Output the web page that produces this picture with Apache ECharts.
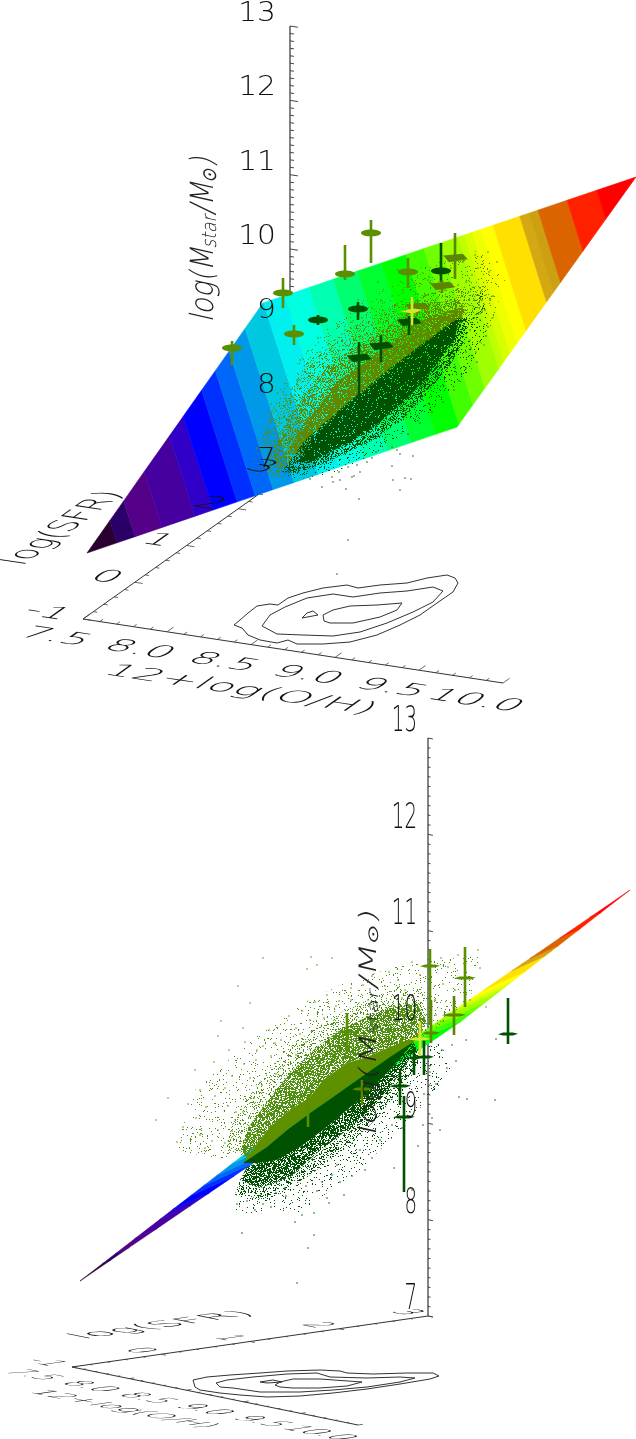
<!DOCTYPE html>
<html>
<head>
<meta charset="utf-8">
<title>log(Mstar/Msun) vs 12+log(O/H) and log(SFR)</title>
<style>
html,body{margin:0;padding:0;background:#fff}
#chart{width:636px;height:1439px}
</style>
<script src="https://cdn.jsdelivr.net/npm/echarts@6/dist/echarts.min.js"></script>
</head>
<body>
<div id="chart"></div>
<script>
// tick values of the three axes
var ohTicks = [7.5, 8.0, 8.5, 9.0, 9.5, 10.0]
var ohTickLabels = ['7.5', '8.0', '8.5', '9.0', '9.5', '10.0']
var sfrTicks = [-1, 0, 1, 2, 3]
var massTicks = [7, 8, 9, 10, 11, 12, 13]

// colour bands of the fitted plane: upper edge of each band and its colour
var bandEnds = [.05, .08, .125, .18, .21, .25, .28, .31, .345, .385, .42, .46, .5, .54, .58, .62, .65, .676, .706, .717, .73, .745, .764, .808, .823, .838, .886, .935, 1]
var bandColors = ['#2a0030', '#2a0068', '#550088', '#4600a0', '#3000c8', '#0000ff', '#0030ff', '#0068f8', '#0098e8', '#00c8e0', '#00f0f0', '#00ffe0', '#00ffb0', '#00ff70', '#00ff30', '#00ff00', '#40ff00', '#70ff00', '#a0ff00', '#c0ff00', '#d8ff00', '#f0ff00', '#ffff00', '#ffe000', '#d4a812', '#cca010', '#dc6400', '#ff2000', '#ff0000']

var planeTop = [[87, 553], [457, 427], [636, 177], [263, 303]]
var planeBottom = [[80, 1281], [460, 1022], [630, 890], [250, 1150]]

// contours on the floor
var contourTop = [
    [[234,625],[240,620],[248,613],[257,606],[270,604],[278,605],[288,598],[303,593],[323,588],[347,585],[358,588],[380,585],[407,583],[427,578],[447,575],[455,578],[458,583],[453,592],[437,603],[420,615],[400,625],[377,635],[350,642],[323,644],[297,644],[288,640],[277,643],[260,640],[248,635],[242,628],[234,625]],
    [[262,626],[270,615],[285,607],[307,598],[333,594],[353,597],[380,593],[407,591],[433,587],[443,591],[433,602],[413,612],[387,623],[360,632],[333,636],[303,635],[277,634],[262,626]],
    [[323,615],[333,610],[350,606],[377,605],[402,603],[397,610],[380,617],[353,623],[330,623],[324,621],[323,615]],
    [[302,618],[307,613],[313,611],[318,615],[302,618]]
]
var contourBottom = [
    [[193,1380],[207,1377],[230,1375],[260,1373],[287,1371],[320,1370],[340,1371],[347,1373],[373,1374],[407,1373],[433,1373],[439,1376],[430,1379],[400,1384],[367,1389],[333,1393],[300,1396],[267,1397],[240,1395],[220,1393],[200,1390],[195,1387],[193,1380]],
    [[216,1383],[227,1380],[253,1377],[287,1374],[317,1373],[330,1377],[367,1378],[400,1377],[415,1378],[400,1382],[367,1387],[333,1390],[300,1392],[260,1392],[233,1388],[220,1387],[216,1383]],
    [[275,1385],[280,1382],[293,1379],[320,1379],[362,1382],[347,1386],[320,1388],[293,1388],[280,1387],[275,1385]],
    [[260,1382],[273,1380],[282,1382],[267,1383],[260,1382]]
]

// outlines of the crowded parts of the two galaxy clouds
var oliveFaintTop = [[252,472],[260,420],[288,375],[320,335],[370,295],[420,268],[480,250],[505,280],[490,330],[470,350],[420,370],[340,430],[290,480]]
var oliveSparseTop = [[262,440],[272,407],[293,387],[310,357],[343,333],[377,313],[410,297],[460,288],[492,285],[480,320],[465,325],[433,345],[393,378],[347,413],[310,447],[290,475],[268,476]]
var oliveMediumTop = [[273,447],[287,423],[303,397],[327,367],[350,350],[373,337],[397,320],[427,303],[460,300],[467,317],[460,330],[433,345],[393,378],[347,413],[310,447],[293,467],[277,470]]
var oliveDenseTop = [[288,450],[303,425],[320,405],[337,382],[360,365],[387,347],[410,327],[433,315],[463,307],[462,322],[433,345],[393,375],[347,410],[327,425],[300,458]]
var darkFaintTop = [[280,482],[330,474],[380,452],[430,412],[470,372],[490,322],[482,290],[465,320],[430,380],[360,430],[300,465]]
var darkMediumTop = [[282,472],[305,440],[345,405],[390,368],[430,338],[457,318],[470,318],[465,340],[449,367],[429,390],[405,417],[379,437],[349,452],[320,465],[297,473]]
var darkDenseTop = [[298,462],[312,438],[347,405],[370,387],[393,368],[417,350],[433,337],[450,325],[460,318],[454,340],[439,360],[425,380],[402,403],[379,423],[352,441],[327,454],[310,462]]

var oliveFaintBottom = [[175,1150],[195,1090],[240,1050],[290,1010],[340,985],[400,965],[480,955],[470,1000],[430,1035],[350,1060],[260,1125],[225,1160]]
var oliveSparseBottom = [[225,1150],[233,1122],[250,1096],[268,1070],[287,1050],[313,1030],[340,1013],[377,993],[423,987],[428,1017],[417,1040],[390,1047],[347,1063],[310,1097],[270,1127],[247,1157]]
var oliveMediumBottom = [[240,1152],[250,1125],[270,1098],[290,1073],[317,1047],[340,1030],[367,1017],[390,1007],[417,1003],[427,1023],[417,1040],[390,1047],[367,1057],[347,1063],[323,1080],[310,1097],[290,1110],[270,1127],[247,1157]]
var oliveDenseBottom = [[247,1157],[270,1127],[290,1110],[310,1097],[323,1080],[347,1063],[367,1057],[390,1047],[407,1040],[417,1040],[413,1042],[390,1057],[367,1073],[333,1097],[310,1113],[287,1130],[267,1147],[243,1163]]
var darkDenseBottom = [[243,1163],[267,1147],[287,1130],[310,1113],[333,1097],[367,1073],[390,1057],[413,1042],[407,1050],[390,1070],[370,1090],[347,1110],[323,1130],[300,1147],[277,1160],[257,1163]]
var darkMediumBottom = [[247,1167],[240,1180],[260,1188],[290,1177],[317,1153],[347,1130],[373,1107],[393,1083],[407,1063],[417,1047],[413,1042],[390,1070],[347,1110],[300,1147],[257,1163]]
var darkSparseBottom = [[240,1180],[235,1195],[270,1200],[310,1175],[350,1145],[380,1115],[400,1090],[420,1060],[417,1047],[393,1083],[347,1130],[290,1177],[260,1188]]
var darkFaintBottom = [[232,1192],[236,1214],[300,1212],[360,1170],[410,1120],[452,1070],[440,1042],[420,1050],[380,1115],[310,1175],[270,1200]]

// single galaxies away from the crowded parts
var oliveDotsTop = [[297,380],[305,372],[312,365],[320,352],[328,345],[335,340],[345,330],[352,322],[362,318],[372,308],[381,300],[392,296],[403,290],[415,285],[428,280],[440,275],[451,268],[463,262],[475,255],[488,252],[300,360],[318,338],[338,325],[358,300],[378,282],[398,270],[472,275],[480,288],[490,300],[470,340],[480,320],[445,290],[455,300],[465,310],[437,298],[425,296],[410,305],[395,312],[380,322],[365,335],[350,340],[335,355],[325,375],[312,390],[300,410],[290,425],[282,440],[275,455],[270,463],[286,400],[295,395],[484,345],[476,352],[489,272],[497,262],[478,268],[466,282],[452,284],[482,300],[492,318],[257,448],[262,470],[268,430],[279,418],[283,392],[318,378],[342,365]]
var darkDotsTop = [[397,450],[400,454],[413,456],[392,466],[372,458],[367,462],[357,465],[348,467],[339,472],[340,480],[332,477],[352,477],[360,472],[310,479],[322,487],[346,489],[393,480],[411,479],[400,490],[359,499],[354,476],[333,482],[348,540],[337,574],[405,478],[470,330],[474,318],[479,305],[471,348],[480,342],[486,336],[477,362],[466,368],[459,381],[454,390],[443,402],[432,412],[420,423],[408,434],[392,447],[376,452],[466,352],[462,296],[469,300],[478,295],[485,310],[493,296],[488,327]]
var oliveDotsBottom = [[238,986],[263,958],[311,957],[317,965],[332,958],[307,969],[250,1003],[221,1021],[243,1028],[218,1036],[257,1050],[269,1030],[275,1043],[289,1016],[296,1028],[302,1011],[315,1002],[327,995],[339,1001],[351,988],[363,985],[372,976],[389,972],[398,980],[412,962],[420,975],[441,958],[448,967],[458,955],[478,950],[486,1007],[480,968],[465,958],[443,984],[455,990],[470,1000],[405,990],[435,1000],[436,1015],[443,1021],[200,1090],[196,1118],[206,1107],[215,1096],[225,1088],[232,1076],[244,1064],[250,1078],[256,1060],[263,1046],[271,1056],[281,1040],[228,1106],[236,1112],[218,1130],[200,1135],[205,1148],[212,1141],[183,1127],[177,1142],[195,1070],[214,1062],[229,1050],[245,1042],[300,1034],[310,1020],[324,1018],[336,1006],[351,1000],[368,1000],[385,986],[402,998],[156,1120],[168,1098],[188,1104],[225,1143],[232,1131],[243,1112],[254,1098],[262,1085],[276,1074],[285,1062],[296,1055],[306,1042]]
var darkDotsBottom = [[242,1233],[314,1235],[308,1248],[297,1283],[286,1196],[271,1207],[263,1204],[237,1204],[247,1201],[295,1222],[302,1215],[327,1198],[329,1203],[317,1191],[285,1188],[314,1213],[340,1182],[352,1176],[365,1170],[337,1165],[380,1140],[392,1125],[402,1128],[410,1112],[424,1094],[436,1084],[447,1068],[456,1061],[430,1072],[442,1050],[452,1045],[466,1040],[459,1097],[467,1099],[496,1039],[495,1100],[440,1130],[432,1118],[423,1125],[418,1146],[412,1190],[394,1168],[372,1158],[360,1150],[332,1175],[322,1182],[306,1186],[276,1193],[255,1210],[344,1195]]

// single objects with error bars: x, y, top, bottom, half width, colour group, kind (0 ellipse, 1 tilted, 2 cross, 3 star)
var objectsTop = [
    [232,348,341,365,10,'olive',0],[283,293,278,308,10,'olive',0],[294,334,325,345,10,'olive',0],
    [318,320,315,325,10,'dark',0],[345,274,245,280,10,'olive',0],[371,233,220,263,10,'olive',0],
    [358,309,302,320,10,'dark',0],[408,272,258,288,10,'olive',0],[441,271,243,282,10,'dark',0],
    [455,258,233,279,12,'oliveDim',1],[442,286,280,293,12,'oliveDim',1],[417,307,303,313,12,'oliveDim',1],
    [409,322,316,335,12,'dark',1],[412,311,297,325,12,'yellow',3],[381,346,335,362,12,'dark',1],
    [359,358,342,407,12,'dark',1]
]
var objectsBottom = [
    [308,1105,1095,1127,1,'olive',2],[430,966,949,1025,10,'olive',2],[465,978,947,1007,11,'olive',2],
    [454,1015,996,1035,12,'oliveDim',2],[431,1033,1000,1043,9,'oliveDim',2],[347,1032,1013,1052,9,'olive',2],
    [508,1034,998,1044,10,'dark',2],[362,1089,1080,1105,10,'oliveDim',2],[424,1057,1040,1075,10,'dark',2],
    [414,1058,1047,1075,6,'dark',2],[400,1086,1072,1105,11,'dark',2],[404,1117,1096,1192,11,'dark',2],
    [420,1039,1022,1056,11,'yellow',2]
]

var groupColors = {olive: '#5a8f00', oliveDim: '#5e8500', dark: '#005000', yellow: '#d4e630'}
var inkFamily = '"DejaVu Sans", Roboto, sans-serif'

// the two views of the same box
var viewTop = {
    origin: [83, 619], oh: [168, 25.6], sfr: [51.75, -36.75], mass: [0, -74.33],
    major: 8, minor: 4, massOffset: [-14, -12], massFont: 27, massStretch: 1.1,
    ohOffset: [-28, 18], sfrOffset: [-16, -3], tickX: 2.05, tickY: 1.3, floorWeight: 200,
    ohTitle: [240, 690], ohTitleX: 2.15, ohTitleY: 1.3,
    sfrTitle: [64, 528], sfrTitleX: 1.5, sfrTitleY: 1.8,
    massTitle: [205, 238], massTitleFont: 32, massTitleX: .85
}
var viewBottom = {
    origin: [72, 1367], oh: [114.4, 23.2], sfr: [89, -12.75], mass: [0, -96.33],
    major: 5, minor: 2.5, massOffset: [-11, -16], massFont: 36, massStretch: .55,
    ohOffset: [-40, 8], sfrOffset: [-13, -2], tickX: 1.4, tickY: 1.6, floorWeight: 200,
    ohTitle: [123, 1409], ohTitleX: 1.45, ohTitleY: 1.4,
    sfrTitle: [163, 1325], sfrTitleX: 2.1, sfrTitleY: 1.5,
    massTitle: [370, 1022], massTitleFont: 24, massTitleX: 1.55
}

function project(view, oh, sfr, mass) {
    var a = oh - 7.5, b = sfr + 1, c = mass - 7
    return [
        view.origin[0] + a * view.oh[0] + b * view.sfr[0] + c * view.mass[0],
        view.origin[1] + a * view.oh[1] + b * view.sfr[1] + c * view.mass[1]
    ]
}
function unit(v) {
    var n = Math.hypot(v[0], v[1])
    return [v[0] / n, v[1] / n]
}

// cut one band out of the plane, working in the plane's own (u,v) square
var tiltU = .616, tiltV = .384
function clipBand(lo, hi) {
    var square = [[0, 0], [1, 0], [1, 1], [0, 1]]
    function cut(poly, limit, keepBelow) {
        var out = []
        poly.forEach(function (p, i) {
            var q = poly[(i + 1) % poly.length]
            var tp = tiltU * p[0] + tiltV * p[1], tq = tiltU * q[0] + tiltV * q[1]
            var pIn = keepBelow ? tp <= limit : tp >= limit
            var qIn = keepBelow ? tq <= limit : tq >= limit
            if (pIn) out.push(p)
            if (pIn !== qIn) {
                var f = (limit - tp) / (tq - tp)
                out.push([p[0] + f * (q[0] - p[0]), p[1] + f * (q[1] - p[1])])
            }
        })
        return out
    }
    return cut(cut(square, hi, true), lo, false)
}
function planeBands(corners) {
    return bandEnds.map(function (end, i) {
        var lo = i ? bandEnds[i - 1] : 0
        var points = clipBand(lo, end).map(function (p) {
            var u = p[0], v = p[1]
            return [
                corners[0][0] * (1 - u) * (1 - v) + corners[1][0] * u * (1 - v) + corners[2][0] * u * v + corners[3][0] * (1 - u) * v,
                corners[0][1] * (1 - u) * (1 - v) + corners[1][1] * u * (1 - v) + corners[2][1] * u * v + corners[3][1] * (1 - u) * v
            ]
        })
        return {points: points, fill: bandColors[i], stroke: bandColors[i]}
    })
}

// dotted fill for the crowded parts of the clouds, just a texture
function stipple(color, share) {
    var size = 127
    var c = document.createElement('canvas')
    c.width = c.height = size
    var g = c.getContext('2d')
    g.fillStyle = color
    for (var x = 0; x < size; x++) {
        for (var y = 0; y < size; y++) {
            var h = Math.sin(x * 12.9898 + y * 78.233) * 43758.5453
            if (h - Math.floor(h) < share) g.fillRect(x, y, 1, 1)
        }
    }
    return {image: c, repeat: 'repeat'}
}

function polygons(list, z) {
    return {
        type: 'custom', coordinateSystem: 'cartesian2d', silent: true, z: z, clip: false,
        data: list.map(function (p, i) { return [i] }),
        renderItem: function (params, api) {
            var p = list[params.dataIndex]
            return {
                type: 'polygon',
                shape: {points: p.points.map(function (q) { return api.coord(q) })},
                style: {fill: p.fill, stroke: p.stroke || null, lineWidth: p.stroke ? .6 : 0}
            }
        }
    }
}
function contours(list, z) {
    return {
        type: 'custom', coordinateSystem: 'cartesian2d', silent: true, z: z, clip: false,
        data: list.map(function (p, i) { return [i] }),
        renderItem: function (params, api) {
            return {
                type: 'polyline',
                shape: {points: list[params.dataIndex].map(function (q) { return api.coord(q) })},
                style: {fill: null, stroke: '#333', lineWidth: 1}
            }
        }
    }
}
function dots(data, color, size, z) {
    return {type: 'scatter', data: data, symbol: 'rect', symbolSize: size, silent: true, z: z, itemStyle: {color: color}}
}

function axisSegments(view) {
    var list = []
    function seg(a, b, w, color) { list.push({a: a, b: b, w: w, color: color}) }
    var ohDir = unit(view.oh), sfrDir = unit(view.sfr)
    function tick(p, dir, len, w, color) {
        seg(p, [p[0] + dir[0] * len, p[1] + dir[1] * len], w, color)
    }
    seg(project(view, 7.5, -1, 7), project(view, 10, -1, 7), 1, '#333')
    seg(project(view, 7.5, -1, 7), project(view, 7.5, 3, 7), 1, '#333')
    seg(project(view, 7.5, 3, 7), project(view, 7.5, 3, 13), 1.6, '#666')
    var i
    for (i = 0; i <= 25; i++) tick(project(view, 7.5 + i / 10, -1, 7), sfrDir, i % 5 ? view.minor : view.major, .8, '#444')
    for (i = 0; i <= 20; i++) tick(project(view, 7.5, -1 + i / 5, 7), ohDir, i % 5 ? view.minor : view.major, .8, '#444')
    for (i = 0; i <= 60; i++) tick(project(view, 7.5, 3, 7 + i / 10), ohDir, i % 10 ? view.minor : view.major, 1, '#444')
    return list
}
function segments(list, z) {
    return {
        type: 'custom', coordinateSystem: 'cartesian2d', silent: true, z: z, clip: false,
        data: list.map(function (p, i) { return [i] }),
        renderItem: function (params, api) {
            var s = list[params.dataIndex]
            var a = api.coord(s.a), b = api.coord(s.b)
            return {type: 'line', shape: {x1: a[0], y1: a[1], x2: b[0], y2: b[1]}, style: {stroke: s.color, lineWidth: s.w}}
        }
    }
}

// text lying in the floor: e1 and e2 are what one text pixel right and down become on the page
function slanted(text, at, e1, e2, size, weight, align) {
    var sx = Math.hypot(e1[0], e1[1])
    var u = [e1[0] / sx, e1[1] / sx], v = [-u[1], u[0]]
    var beta = e2[0] * v[0] + e2[1] * v[1]
    var alpha = e2[0] * u[0] + e2[1] * u[1]
    return {
        text: text, at: at, size: size, weight: weight, align: align || 'center',
        rotation: Math.atan2(-u[1], u[0]), scaleX: sx, scaleY: beta, skewX: Math.atan(alpha / beta)
    }
}
function viewLabels(view) {
    var ohDir = unit(view.oh), sfrDir = unit(view.sfr)
    var e1 = [ohDir[0] * view.tickX, ohDir[1] * view.tickX]
    var e2 = [-sfrDir[0] * view.tickY, -sfrDir[1] * view.tickY]
    var out = []
    var w = view.floorWeight
    ohTicks.forEach(function (t, i) {
        var p = project(view, t, -1, 7)
        out.push(slanted(ohTickLabels[i], [p[0] + view.ohOffset[0], p[1] + view.ohOffset[1]], e1, e2, 20, w))
    })
    sfrTicks.forEach(function (t) {
        var p = project(view, 7.5, t, 7)
        out.push(slanted(String(t), [p[0] + view.sfrOffset[0], p[1] + view.sfrOffset[1]], e1, e2, 20, w, 'right'))
    })
    massTicks.forEach(function (t) {
        var p = project(view, 7.5, 3, t)
        out.push({
            text: String(t), at: [p[0] + view.massOffset[0], p[1] + view.massOffset[1]], size: view.massFont, weight: 200,
            align: 'right', rotation: 0, scaleX: view.massStretch, scaleY: 1, skewX: 0
        })
    })
    out.push(slanted('12+log(O/H)', view.ohTitle,
        [ohDir[0] * view.ohTitleX, ohDir[1] * view.ohTitleX], [-sfrDir[0] * view.ohTitleY, -sfrDir[1] * view.ohTitleY], 20, w))
    out.push(slanted('log(SFR)', view.sfrTitle,
        [sfrDir[0] * view.sfrTitleX, sfrDir[1] * view.sfrTitleX], [ohDir[0] * view.sfrTitleY, ohDir[1] * view.sfrTitleY], 20, w))
    return out
}
function labels(list, z) {
    return {
        type: 'custom', coordinateSystem: 'cartesian2d', silent: true, z: z, clip: false,
        data: list.map(function (p, i) { return [i] }),
        renderItem: function (params, api) {
            var t = list[params.dataIndex]
            var p = api.coord(t.at)
            return {
                type: 'text', x: p[0], y: p[1], rotation: t.rotation, scaleX: t.scaleX, scaleY: t.scaleY, skewX: t.skewX,
                style: {text: t.text, font: t.weight + ' ' + t.size + 'px ' + inkFamily, fill: '#111', align: t.align, verticalAlign: 'middle'}
            }
        }
    }
}
function massTitle(view, z) {
    return {
        type: 'custom', coordinateSystem: 'cartesian2d', silent: true, z: z, clip: false,
        data: [[0]],
        renderItem: function (params, api) {
            var p = api.coord(view.massTitle)
            var big = '200 ' + view.massTitleFont + 'px ' + inkFamily
            var small = '200 ' + Math.round(view.massTitleFont * .62) + 'px ' + inkFamily
            return {
                type: 'text', x: p[0], y: p[1], rotation: Math.PI / 2, scaleX: view.massTitleX, skewX: -.22,
                style: {
                    text: '{a|log(M}{b|star}{a|/M}{b|⊙}{a|)}', fill: '#222', align: 'center', verticalAlign: 'middle',
                    rich: {a: {font: big, fill: '#222'}, b: {font: small, fill: '#222', verticalAlign: 'bottom'}}
                }
            }
        }
    }
}

function objects(rows, z) {
    return {
        type: 'custom', coordinateSystem: 'cartesian2d', silent: true, z: z, clip: false,
        data: rows.map(function (r, i) { return [i] }),
        renderItem: function (params, api) {
            var r = rows[params.dataIndex]
            var c = api.coord([r[0], r[1]])
            var top = api.coord([r[0], r[2]]), bot = api.coord([r[0], r[3]])
            var color = groupColors[r[5]], hw = r[4], flat
            if (r[6] === 0) {
                flat = {type: 'ellipse', shape: {cx: c[0], cy: c[1], rx: hw, ry: 3.4}, style: {fill: color}}
            } else {
                var pts = r[6] === 1 ? [[-1, -.2], [.65, -.35], [1.08, .1], [-.5, .35]]
                    : r[6] === 3 ? [[-1, .05], [.1, -.2], [.9, -.1], [.1, .2]]
                    : [[-1, .02], [-.5, -1.6 / hw], [.5, -1.6 / hw], [1, -.02], [.5, 1.6 / hw], [-.5, 1.6 / hw]]
                flat = {
                    type: 'polygon',
                    shape: {points: pts.map(function (q) { return [c[0] + q[0] * hw, c[1] + q[1] * hw] })},
                    style: {fill: color}
                }
            }
            return {type: 'group', children: [
                {type: 'line', shape: {x1: top[0], y1: top[1], x2: bot[0], y2: bot[1]}, style: {stroke: color, lineWidth: 2.6}},
                flat
            ]}
        }
    }
}

var inkOlive = '#5f8a00', inkDark = '#005200', inkOliveB = '#5f9000', inkOliveC = '#4f9010'
var chart = echarts.init(document.getElementById('chart'), null, {renderer: 'canvas'})
chart.setOption({
    animation: false,
    backgroundColor: '#fff',
    grid: {left: 0, right: 0, top: 0, bottom: 0},
    xAxis: {type: 'value', min: 0, max: 636, show: false},
    yAxis: {type: 'value', min: 0, max: 1439, inverse: true, show: false},
    series: [
        segments(axisSegments(viewTop), 1),
        segments(axisSegments(viewBottom), 1),
        contours(contourTop, 2),
        contours(contourBottom, 2),
        polygons(planeBands(planeTop), 3),
        polygons(planeBands(planeBottom), 3),
        polygons([
            {points: oliveFaintTop, fill: stipple(inkOlive, .05)},
            {points: oliveSparseTop, fill: stipple(inkOlive, .22)},
            {points: oliveMediumTop, fill: stipple(inkOlive, .5)},
            {points: oliveDenseTop, fill: stipple(inkOlive, .88)},
            {points: darkFaintTop, fill: stipple(inkDark, .08)},
            {points: darkMediumTop, fill: stipple(inkDark, .5)},
            {points: darkDenseTop, fill: stipple(inkDark, .93)}
        ], 4),
        polygons([
            {points: oliveFaintBottom, fill: stipple(inkOliveC, .05)},
            {points: oliveSparseBottom, fill: stipple(inkOliveC, .2)},
            {points: oliveMediumBottom, fill: stipple(inkOliveC, .7)},
            {points: oliveDenseBottom, fill: inkOliveB},
            {points: darkFaintBottom, fill: stipple(inkDark, .06)},
            {points: darkSparseBottom, fill: stipple(inkDark, .3)},
            {points: darkMediumBottom, fill: stipple(inkDark, .7)},
            {points: darkDenseBottom, fill: inkDark}
        ], 4),
        dots(oliveDotsTop, inkOlive, 1.6, 5),
        dots(darkDotsTop, '#2f6b2f', 1.6, 5),
        dots(oliveDotsBottom, '#6a9a20', 1.6, 5),
        dots(darkDotsBottom, '#1f6a1f', 1.6, 5),
        objects(objectsTop, 6),
        objects(objectsBottom, 6),
        labels(viewLabels(viewTop), 7),
        labels(viewLabels(viewBottom), 7),
        massTitle(viewTop, 7),
        massTitle(viewBottom, 7)
    ]
})
</script>
</body>
</html>
